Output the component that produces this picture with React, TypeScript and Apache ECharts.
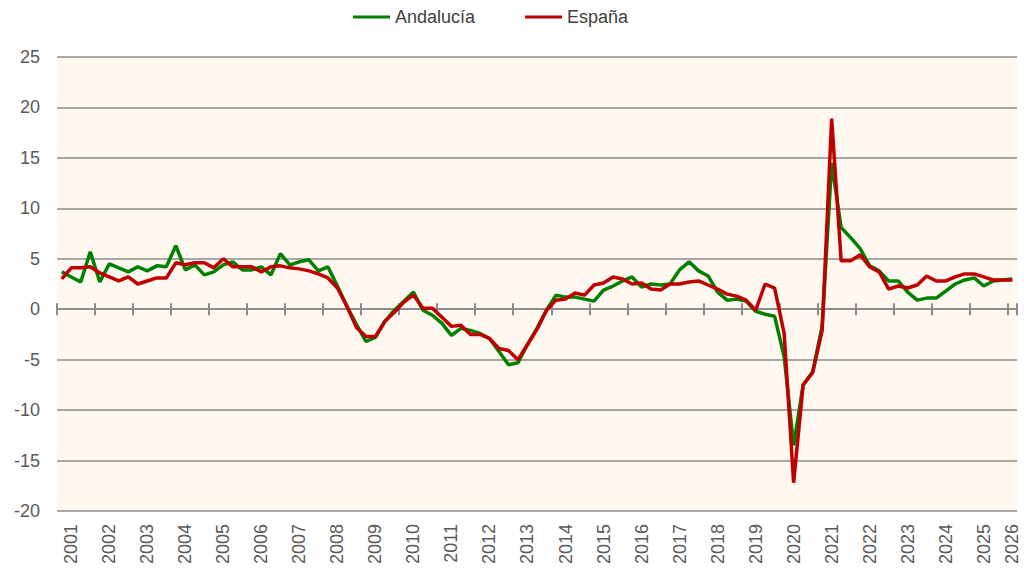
import React, { useEffect, useRef } from "react";
import * as echarts from "echarts";

const years: number[] = [];
for (let y = 2001; y <= 2026; y++) years.push(y);
const quarterNames = ["T1", "T2", "T3", "T4"];
const categories: string[] = [];
years.forEach((y) => {
  quarterNames.forEach((q) => {
    if (y < 2026 || q === "T1") categories.push(`${y} ${q}`);
  });
});

const andalucia = [
  3.7, 3.2, 2.7, 5.7, 2.7, 4.5, 4.1, 3.7, 4.2, 3.8,
  4.3, 4.2, 6.3, 3.9, 4.4, 3.4, 3.7, 4.4, 4.7, 3.9,
  3.9, 4.2, 3.4, 5.5, 4.4, 4.7, 4.9, 3.8, 4.2, 2.3,
  0.3, -1.5, -3.2, -2.8, -1.2, -0.1, 0.8, 1.7, -0.1, -0.6,
  -1.4, -2.6, -1.9, -2.1, -2.4, -2.9, -4.2, -5.5, -5.3, -3.5,
  -1.9, -0.1, 1.4, 1.2, 1.2, 1.0, 0.8, 1.9, 2.3, 2.8,
  3.2, 2.2, 2.5, 2.4, 2.5, 3.9, 4.7, 3.8, 3.3, 1.7,
  0.9, 1.0, 0.8, -0.2, -0.5, -0.7, -4.7, -13.5, -7.5, -6.2,
  -1.7, 14.5, 8.1, 7.1, 6.0, 4.3, 3.8, 2.8, 2.8, 1.7,
  0.9, 1.1, 1.1, 1.8, 2.5, 2.9, 3.1, 2.3, 2.8, 2.9,
  3.0,
];

const espana = [
  3.0, 4.1, 4.1, 4.2, 3.6, 3.2, 2.8, 3.2, 2.5, 2.8,
  3.1, 3.1, 4.6, 4.4, 4.6, 4.6, 4.1, 5.0, 4.2, 4.2,
  4.2, 3.7, 4.2, 4.3, 4.1, 4.0, 3.8, 3.5, 3.1, 2.1,
  0.3, -1.8, -2.7, -2.7, -1.2, -0.3, 0.7, 1.4, 0.1, 0.1,
  -0.8, -1.7, -1.6, -2.5, -2.5, -2.9, -3.9, -4.1, -5.0, -3.5,
  -2.0, -0.1, 0.9, 1.0, 1.6, 1.4, 2.4, 2.6, 3.2, 3.0,
  2.5, 2.6, 2.0, 1.9, 2.5, 2.5, 2.7, 2.8, 2.4, 2.0,
  1.5, 1.3, 0.9, -0.1, 2.5, 2.1, -2.4, -17.2, -7.5, -6.3,
  -2.1, 18.9, 4.8, 4.8, 5.4, 4.2, 3.7, 2.0, 2.3, 2.1,
  2.4, 3.3, 2.8, 2.8, 3.2, 3.5, 3.5, 3.2, 2.9, 2.9,
  2.9,
];

const seriesNames = ["Andalucía", "España"];
const seriesColors = ["#008000", "#C00000"];
const yTicks = { min: -20, max: 25, step: 5 };

export default function App() {
  const ref = useRef<HTMLDivElement>(null);
  useEffect(() => {
    if (!ref.current) return;
    const chart = echarts.init(ref.current, null, { renderer: "svg" });
    const font = "'Liberation Sans', Arial, sans-serif";
    const axisGrey = "#8c8c8c";
    const last = categories.length - 1;
    const tickOpt = {
      show: true,
      length: 6,
      interval: (i: number) => i % 4 === 0,
      lineStyle: { color: axisGrey, width: 2 },
    };
    chart.setOption({
      animation: false,
      backgroundColor: "#ffffff",
      textStyle: { fontFamily: font },
      legend: {
        left: 353,
        top: 8,
        padding: 0,
        icon: "rect",
        itemWidth: 37,
        itemHeight: 3,
        itemGap: 50,
        textStyle: { fontSize: 18, color: "#404040", fontFamily: font },
        data: seriesNames,
      },
      grid: {
        left: 57,
        right: 7,
        top: 57,
        bottom: 60,
        show: true,
        backgroundColor: "#FEF8F1",
        borderWidth: 0,
        containLabel: false,
      },
      xAxis: [
        {
          type: "category",
          data: categories,
          boundaryGap: true,
          position: "bottom",
          axisLine: { show: false, onZero: false },
          axisTick: { show: false },
          axisLabel: {
            interval: (i: number) => i % 4 === 1 || i === last,
            rotate: 90,
            margin: 13,
            formatter: (v: string) => v.slice(0, 4),
            fontSize: 18,
            color: "#595959",
            fontFamily: font,
          },
          splitLine: { show: false },
        },
        {
          type: "category",
          data: categories,
          boundaryGap: true,
          position: "bottom",
          axisLine: { show: true, onZero: true, onZeroAxisIndex: 0, lineStyle: { color: axisGrey, width: 2 } },
          axisTick: tickOpt,
          axisLabel: { show: false },
          splitLine: { show: false },
        },
        {
          type: "category",
          data: categories,
          boundaryGap: true,
          position: "top",
          axisLine: { show: true, onZero: true, onZeroAxisIndex: 0, lineStyle: { color: axisGrey, width: 2 } },
          axisTick: tickOpt,
          axisLabel: { show: false },
          splitLine: { show: false },
        },
      ],
      yAxis: {
        type: "value",
        min: yTicks.min,
        max: yTicks.max,
        interval: yTicks.step,
        axisLine: { show: false },
        axisTick: { show: false },
        axisLabel: { fontSize: 18, color: "#595959", margin: 17, fontFamily: font },
        splitLine: { lineStyle: { color: axisGrey, width: 1.5 } },
      },
      series: seriesNames.map((name, k) => ({
        name,
        type: "line",
        xAxisIndex: 0,
        data: k === 0 ? andalucia : espana,
        symbol: "none",
        showSymbol: false,
        lineStyle: { color: seriesColors[k], width: 3.5 },
        itemStyle: { color: seriesColors[k] },
      })),
    });
    return () => chart.dispose();
  }, []);
  return (
    <div
      ref={ref}
      style={{ position: "fixed", left: 0, top: 0, width: 1024, height: 571 }}
    />
  );
}
